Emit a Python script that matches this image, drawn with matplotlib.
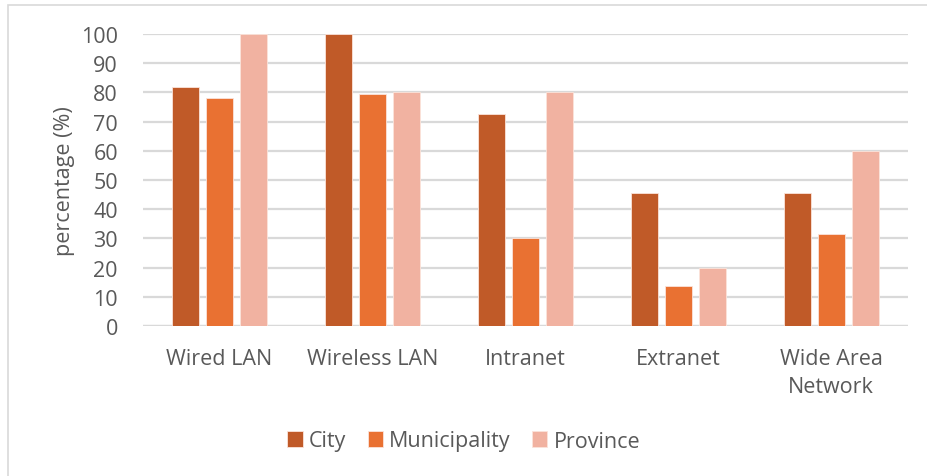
import numpy as np
import matplotlib
matplotlib.use("Agg")
import matplotlib.pyplot as plt
from matplotlib.patches import Rectangle

plt.rcParams['font.family'] = ['Open Sans', 'DejaVu Sans']

# data
categories = ['Wired LAN', 'Wireless LAN', 'Intranet', 'Extranet', 'Wide Area\nNetwork']
city = [81.8, 100.0, 72.7, 45.5, 45.5]
municipality = [78.1, 79.4, 30.1, 13.7, 31.5]
province = [100.0, 80.0, 80.0, 20.0, 60.0]
series_names = ['City', 'Municipality', 'Province']
colours = ['#C05A28', '#E97132', '#F1B2A1']

fig = plt.figure(figsize=(9.28, 4.77), dpi=100)
ax = fig.add_axes([0.154, 0.3145, 0.824, 0.612])

# frame of the chart area: only left and top edges fall inside the picture
fig.patches.append(Rectangle((8/928, -0.1), 2, 1.1 - 6/477, transform=fig.transFigure,
                             fill=False, edgecolor='#D9D9D9', linewidth=1.2))

x = np.arange(len(categories))
w = 0.176
step = 0.222
for i, (vals, name, col) in enumerate(zip([city, municipality, province], series_names, colours)):
    ax.bar(x + (i - 1) * step, vals, width=w, color=col, label=name,
           edgecolor='#FBE3DA', linewidth=0.6, zorder=3)

ax.set_xlim(-0.5, len(categories) - 0.5)
ax.set_ylim(0, 100)
ax.set_yticks(np.arange(0, 101, 10))
ax.yaxis.grid(True, color='#D9D9D9', linewidth=1.6, zorder=0)
ax.set_axisbelow(True)
for s in ax.spines.values():
    s.set_visible(False)
ax.axhline(0, color='#D9D9D9', linewidth=1.6, zorder=1)

ax.set_xticks(x)
ax.set_xticklabels(categories, fontsize=15.5, color='#595959', linespacing=1.45)
ax.tick_params(axis='x', length=0, pad=16)
ax.tick_params(axis='y', length=0, pad=18, labelsize=15.5, labelcolor='#595959')
ax.set_ylabel('percentage (%)', fontsize=15.5, color='#595959', labelpad=4)

fig.legend(loc='center', bbox_to_anchor=(0.5, 1 - 442/477), ncol=3, frameon=False,
           fontsize=15.5, labelcolor='#595959', handlelength=0.7, handleheight=0.7,
           handletextpad=0.3, columnspacing=1.0)

fig.savefig('out.png', dpi=100)
